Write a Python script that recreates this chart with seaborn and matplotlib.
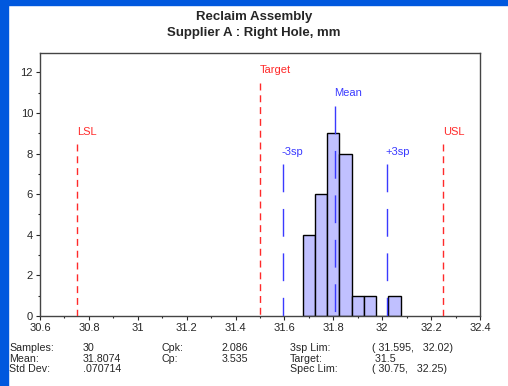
import matplotlib
matplotlib.use("Agg")
import matplotlib.pyplot as plt
import seaborn as sns
import numpy as np
from matplotlib.ticker import FuncFormatter, MultipleLocator

# ---- data ----
bin_centers = [31.70, 31.75, 31.80, 31.85, 31.90, 31.95, 32.00, 32.05]
bin_counts = [4, 6, 9, 8, 1, 1, 0, 1]
bin_edges = [31.675, 31.725, 31.775, 31.825, 31.875, 31.925, 31.975, 32.025, 32.075]

lsl, usl, target = 30.75, 32.25, 31.5
mean_val = 31.8074
lo3, hi3 = 31.595, 32.02

spec_lines = [("LSL", lsl, 8.45, 8.8), ("Target", target, 11.45, 11.85), ("USL", usl, 8.45, 8.8)]
stat_lines = [("Mean", mean_val, 10.35, 10.75), ("-3sp", lo3, 7.5, 7.85), ("+3sp", hi3, 7.5, 7.85)]

stats_col1 = ["Samples:", "Mean:", "Std Dev:"]
stats_val1 = ["30", "31.8074", ".070714"]
stats_col2 = ["Cpk:", "Cp:", ""]
stats_val2 = ["2.086", "3.535", ""]
stats_col3 = ["3sp Lim:", "Target:", "Spec Lim:"]
stats_val3 = ["( 31.595,   32.02)", " 31.5", "( 30.75,   32.25)"]

sns.set_style("ticks")
plt.rcParams['font.family'] = ['Liberation Sans', 'DejaVu Sans']

W, H = 508, 386
fig = plt.figure(figsize=(W / 100, H / 100), dpi=100)
fig.patch.set_facecolor("white")

# blue border on left and top
fig.add_artist(plt.Rectangle((0, 0), 8 / W, 1, transform=fig.transFigure, color="#0058DE", zorder=0))
fig.add_artist(plt.Rectangle((0, 1 - 5 / H), 1, 5 / H, transform=fig.transFigure, color="#0058DE", zorder=0))

ax = fig.add_axes([40 / W, 1 - 316 / H, 440 / W, 263 / H])

sns.histplot(x=bin_centers, weights=bin_counts, bins=bin_edges, ax=ax,
             color="#C0C0FF", edgecolor="black", linewidth=1.0, alpha=1.0, zorder=2)

red = "#FF2A2A"
blue = "#3A3AFF"
for name, xv, top, ty in spec_lines:
    ax.plot([xv, xv], [top, 0], color=red, lw=1.0, dashes=(5, 3.5), zorder=3)
    ax.text(xv, ty, name, color=red, fontsize=8, ha="left", va="bottom")
for name, xv, top, ty in stat_lines:
    ax.plot([xv, xv], [top, 0], color=blue, lw=1.0, dashes=(20, 12), zorder=3)
    ax.text(xv - 0.006, ty, name, color=blue, fontsize=8, ha="left", va="bottom")

ax.set_xlim(30.6, 32.4)
ax.set_ylim(0, 12.95)
ax.xaxis.set_major_locator(MultipleLocator(0.2))
ax.xaxis.set_minor_locator(MultipleLocator(0.1))
ax.yaxis.set_major_locator(MultipleLocator(2))
ax.yaxis.set_minor_locator(MultipleLocator(1))
ax.xaxis.set_major_formatter(FuncFormatter(lambda v, p: "%g" % round(v, 2)))
ax.tick_params(axis="both", which="major", labelsize=8, length=3, width=0.8, pad=2)
ax.tick_params(axis="both", which="minor", length=1.5, width=0.8)
ax.set_xlabel("")
ax.set_ylabel("")
for s in ax.spines.values():
    s.set_color("#444444")
    s.set_linewidth(1.0)
    s.set_visible(True)

fig.text(0.5, 1 - 17 / H, "Reclaim Assembly", ha="center", va="center", fontsize=9.5, fontweight="bold")
fig.text(0.5, 1 - 33 / H, "Supplier A : Right Hole, mm", ha="center", va="center", fontsize=9.5, fontweight="bold")

ys = [348, 358.5, 369]
cols = [(9, stats_col1), (83, stats_val1), (162, stats_col2), (222, stats_val2), (290, stats_col3), (372, stats_val3)]
for x0, labels in cols:
    for y0, t in zip(ys, labels):
        if t:
            fig.text(x0 / W, 1 - y0 / H, t, ha="left", va="center", fontsize=7.7, linespacing=1.0)

fig.savefig("out.png", dpi=100)
